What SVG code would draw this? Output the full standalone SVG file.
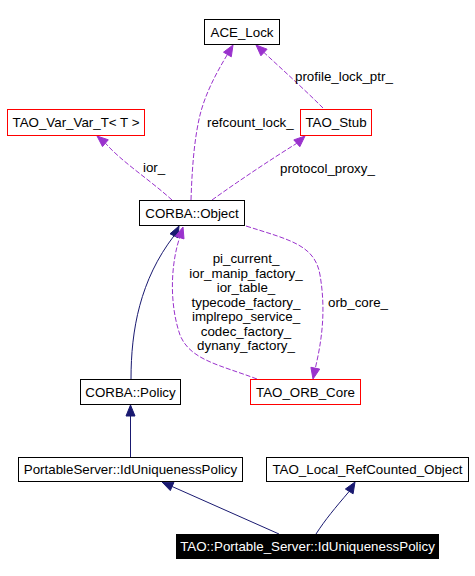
<svg xmlns="http://www.w3.org/2000/svg" width="475" height="576" viewBox="0 0 475 576">
<style>
text{font-family:"Liberation Sans",Arial,sans-serif;font-size:13.33px;fill:#000}
.n{text-anchor:middle}
.box{fill:#fff;stroke:#000;stroke-width:1}
.red{fill:#fff;stroke:#ff0000;stroke-width:1}
.d{fill:none;stroke:#9a32cd;stroke-width:1;stroke-dasharray:5,2}
.s{fill:none;stroke:#191970;stroke-width:1}
.da{fill:#9a32cd;stroke:#9a32cd}
.sa{fill:#191970;stroke:#191970}
</style>
<rect width="475" height="576" fill="#fff"/>
<g id="connectors">
<path class="d" d="M191,200 C192,170 194,140 200,115 C205,95 215,75 227.4,54.5"/>
<polygon class="da" points="233,45 231.3,56.8 223.5,52.2"/>
<path class="d" d="M323,108 C305,90 285,72 264,52.5"/>
<polygon class="da" points="256,45 267.1,49.2 260.9,55.8"/>
<path class="d" d="M172,200 C150,180 122,162 105.4,143.2"/>
<polygon class="da" points="97,136 108.3,139.8 102.5,146.6"/>
<path class="d" d="M212,200 C240,180 270,160 296.8,143.3"/>
<polygon class="da" points="305,136 299.8,146.7 293.8,139.9"/>
<path class="s" d="M131,379 C131,330 140,280 174,235.8"/>
<polygon class="sa" points="179,226 178,237.8 170,233.8"/>
<path class="d" d="M257,379 C220,365 190,360 180,335 C168,300 172,260 179.7,237.5"/>
<polygon class="da" points="183,227 184,238.9 175.4,236.2"/>
<path class="d" d="M246,226 C290,240 315,245 320,275 C326,310 322,340 315.3,368.2"/>
<polygon class="da" points="313,379 319.7,369.1 310.9,367.3"/>
<path class="s" d="M130.5,457 L130.5,416"/>
<polygon class="sa" points="130.5,405 126,416 135,416"/>
<path class="s" d="M279,534 L172.1,486.5"/>
<polygon class="sa" points="162,482 173.9,482.4 170.3,490.6"/>
<path class="s" d="M316,534 C325,520 335,508 349.2,491.4"/>
<polygon class="sa" points="355,482 353.1,493.8 345.4,489"/>
<text x="207" y="127">refcount_lock_</text>
<text x="295" y="81">profile_lock_ptr_</text>
<text x="143" y="172">ior_</text>
<text x="280" y="173">protocol_proxy_</text>
<text x="328" y="307">orb_core_</text>
<text class="n" x="246" y="263">pi_current_</text>
<text class="n" x="246" y="277.5">ior_manip_factory_</text>
<text class="n" x="246" y="292">ior_table_</text>
<text class="n" x="246" y="306.5">typecode_factory_</text>
<text class="n" x="246" y="321">implrepo_service_</text>
<text class="n" x="246" y="335.5">codec_factory_</text>
<text class="n" x="246" y="350">dynany_factory_</text>
</g>
<g id="ace_lock"><rect class="box" x="204.5" y="19.5" width="75" height="25"/><text class="n" x="242" y="37">ACE_Lock</text></g>
<g id="tao_var_var_t"><rect class="red" x="7.5" y="109.5" width="137" height="26"/><text class="n" x="76" y="127">TAO_Var_Var_T&lt; T &gt;</text></g>
<g id="tao_stub"><rect class="red" x="300.5" y="109.5" width="71" height="26"/><text class="n" x="336" y="127">TAO_Stub</text></g>
<g id="corba_object"><rect class="box" x="139.5" y="200.5" width="105" height="25"/><text class="n" x="192" y="217.5">CORBA::Object</text></g>
<g id="corba_policy"><rect class="box" x="80.5" y="379.5" width="100" height="25"/><text class="n" x="130.5" y="396.5">CORBA::Policy</text></g>
<g id="tao_orb_core"><rect class="red" x="250.5" y="379.5" width="110" height="25"/><text class="n" x="305.5" y="396.5">TAO_ORB_Core</text></g>
<g id="ps_iduniqueness"><rect class="box" x="18.5" y="457.5" width="224" height="24"/><text class="n" x="130.5" y="474">PortableServer::IdUniquenessPolicy</text></g>
<g id="tao_local_refcounted"><rect class="box" x="266.5" y="457.5" width="202" height="24"/><text class="n" x="367.5" y="474">TAO_Local_RefCounted_Object</text></g>
<g id="tao_ps_iduniqueness"><rect x="176" y="534" width="263" height="25" fill="#000"/><text class="n" x="307.5" y="551" style="fill:#fff">TAO::Portable_Server::IdUniquenessPolicy</text></g>
</svg>
